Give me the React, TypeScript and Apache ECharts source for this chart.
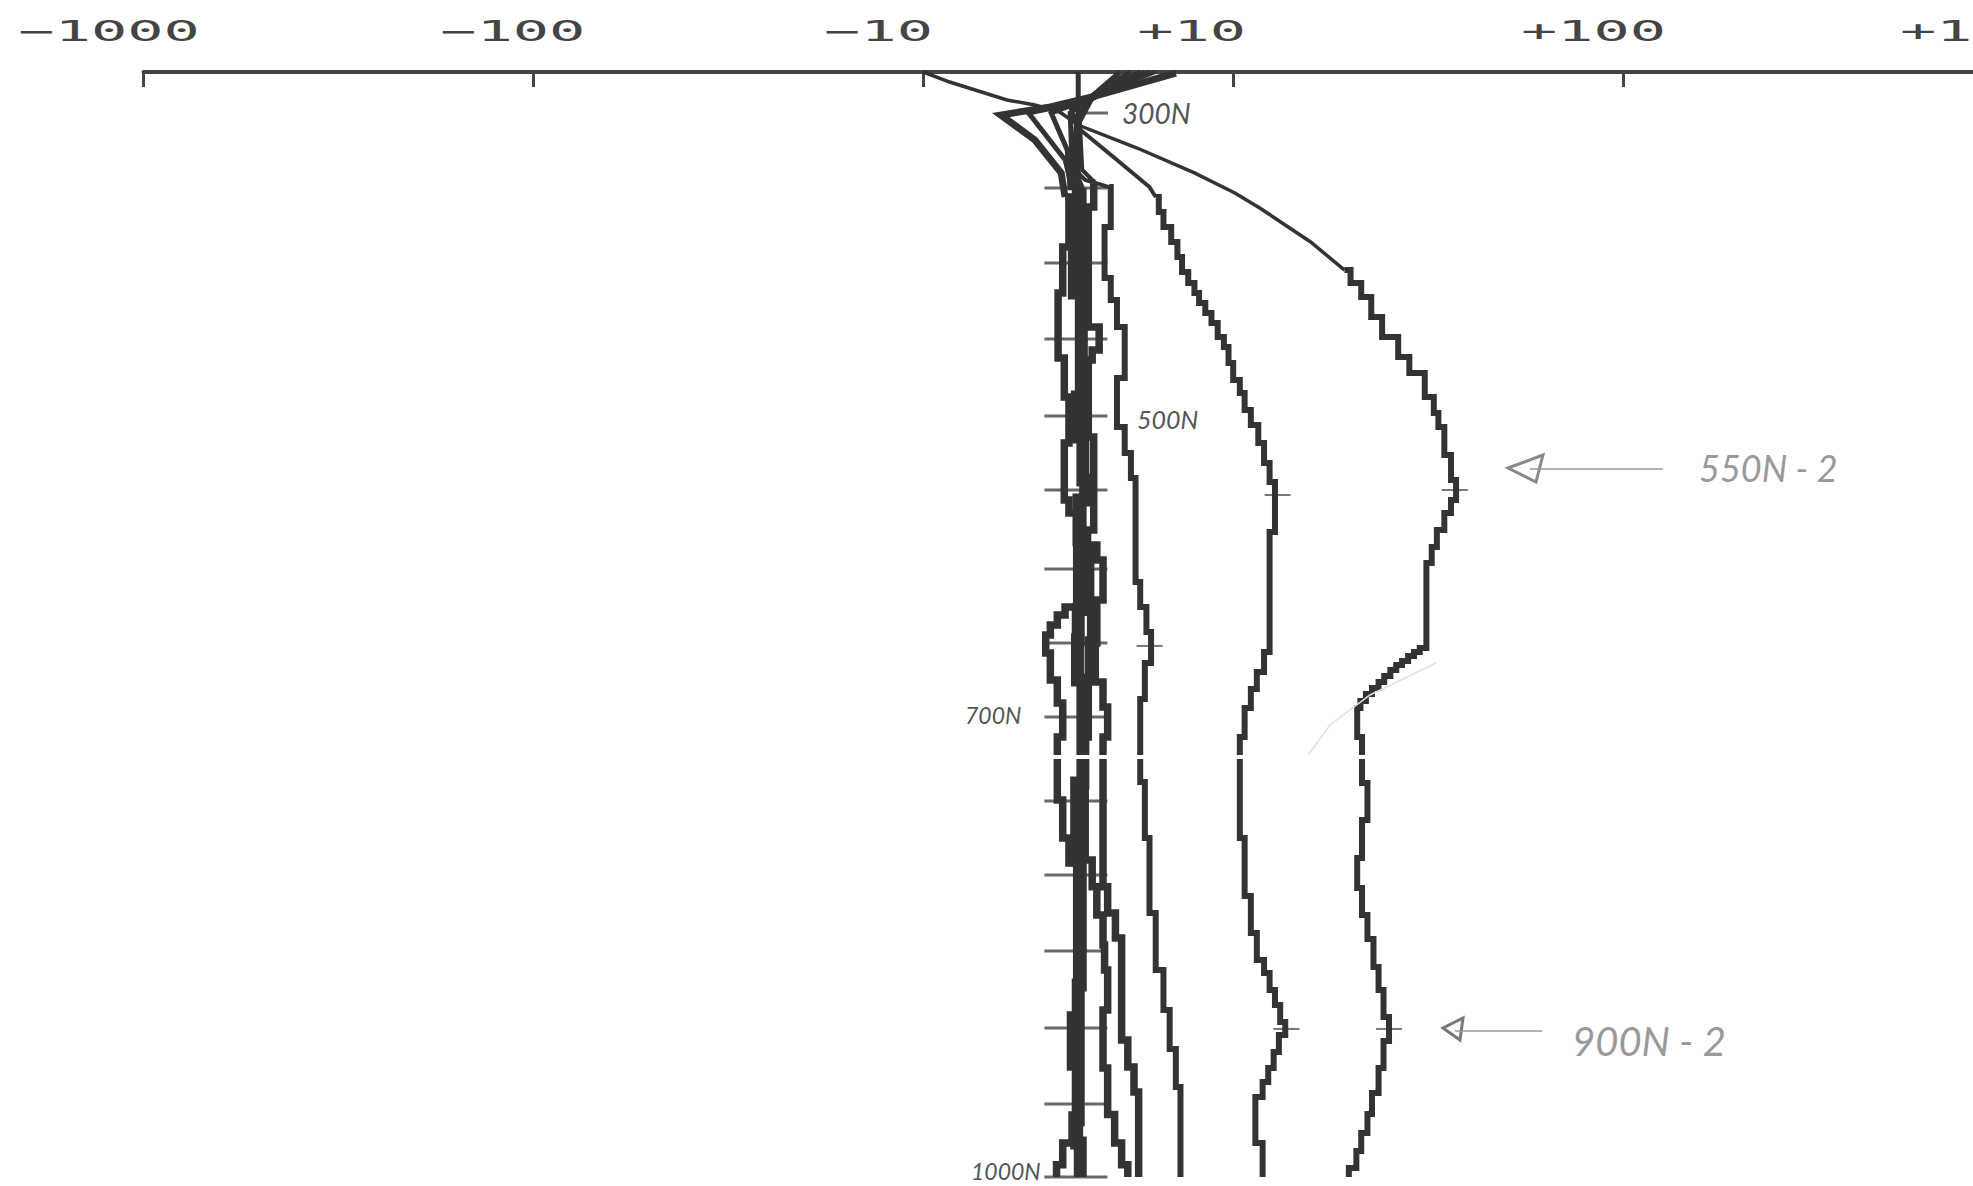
import React, { useEffect, useRef } from "react";
import * as echarts from "echarts";

// Signed decade scale of the original print-out: linear inside +/-10, log outside.
const LINEAR_SPAN = 0.3974;
const symlog = (v: number) => {
  const a = Math.abs(v);
  if (a <= 10) return (v / 10) * LINEAR_SPAN;
  return Math.sign(v) * (Math.log10(a) - 1 + LINEAR_SPAN);
};

const xTickValues = [-1000, -100, -10, 0, 10, 100];
const xLabelValues = [-1000, -100, -10, 10, 100, 1000];
// the last label is cropped by the page edge in the scan: only "+1" is visible
const xLabelTexts = ["−1000", "−100", "−10", "+10", "+100", "+1"];
const xLabelShift = [-125, -93, -99, -96, -102, -113];

// Load marks on the zero line, as read from the page
const loadTicks = [300, 349.3, 398.7, 448.7, 499.3, 548, 600, 648.7, 697.3, 752.6, 801.3, 851.3, 902, 951.9, 1000];

// [offset, load]; "Top" arrays are the fine lines, "Runs" the stepped plotter runs
const stemLine = [[0, 273], [0, 350]];

const curveDTop = [[-10, 273], [-8.3, 279.6], [-4.6, 291.4], [-2.8, 294.7], [-1.2, 299.3], [0, 307.9], [3.8, 323], [7.5, 339.4], [10.1, 352.6], [11.7, 362.5], [15.8, 384.8], [19.3, 403.3]];
const curveDRuns = [[20, 411.8], [21.3, 421], [22.6, 434.2], [24.1, 447.3], [26.5, 460.5], [28.3, 471], [31, 486.8], [32.7, 497.3], [33.6, 506.6], [34.8, 525], [36.2, 541.4], [37.3, 554.6], [36.2, 563.1], [34.8, 574.3], [33.3, 585.5], [32.3, 596], [31.3, 652], [30.1, 654.6], [29.1, 657.2], [28.1, 660.5], [27.1, 663.2], [26.2, 666.4], [25.3, 670.4], [24.4, 674.3], [23.6, 678.3], [22.7, 682.2], [21.9, 686.9], [21.2, 691.4], [20.8, 710.5], [21.4, 740.8], [22.1, 765.1], [21.4, 790.1], [20.8, 809.8], [21.4, 827.6], [22.1, 843.4], [22.9, 861.8], [23.6, 877], [24.3, 894.8], [25.1, 910.5], [24.3, 928.3], [23.6, 944.7], [22.7, 958.6], [22.1, 971], [21.3, 982.9], [20.7, 994.1], [19.8, 1000]];

const curveCTop = [[4, 273], [0.8, 289.4], [-0.5, 296.7], [0, 309.8], [2.35, 329.6], [4.6, 348.7], [5, 355.2]];
const curveCRuns = [[5.2, 365.1], [5.5, 375], [6, 384.8], [6.4, 394.7], [6.7, 404.6], [7.1, 411.8], [7.5, 418.4], [7.8, 425], [8.2, 431.6], [8.6, 438.1], [9, 447.3], [9.4, 453.9], [9.7, 464.4], [10, 475.6], [10.4, 484.2], [10.7, 495.4], [11.1, 505.2], [11.6, 517.1], [12, 530.3], [12.4, 542.7], [12.8, 575.6], [12.4, 654.6], [12, 667.7], [11.5, 678.9], [11.1, 691.4], [10.7, 710.5], [10.4, 777], [10.7, 815.1], [11.1, 839.4], [11.5, 857.2], [12, 865.8], [12.4, 877], [12.8, 886.8], [13.2, 898], [13.6, 906.5], [13.1, 917.7], [12.7, 928.3], [12.3, 937.5], [11.9, 947.4], [11.4, 977.6], [11.9, 1000]];

const curveBTop = [[4.3, 273], [0.8, 291.4], [-0.1, 301.3], [-0.4, 335.5], [0.45, 344], [2, 348.7]];
const curveBRuns = [[2.1, 375], [1.7, 408.5], [2.1, 423], [2.5, 440.8], [3, 474.3], [2.5, 506.6], [3, 523.7], [3.4, 540.1], [3.7, 608.5], [4, 625], [4.4, 641.4], [4.7, 661.8], [4.3, 685.5], [4, 740.1], [4.3, 777], [4.6, 826.3], [5, 863.8], [5.5, 890.1], [5.9, 915.8], [6.3, 940.8], [6.6, 1000]];

const curveATop = [[4.6, 273], [0.9, 289.4], [0.1, 304.6], [0.26, 337.5], [1.1, 346]];
const curveARuns = [[1, 361.8], [0.65, 409.8], [0.65, 440.8], [1.35, 455.9], [0.9, 462.5], [0.65, 513.1], [1, 574.3], [0.6, 584.2], [1.2, 594], [1.6, 620.4], [1.2, 648.7], [1.1, 674.3], [1.6, 690.7], [1.9, 710.5], [1.6, 809.1], [1.9, 826.3], [2.4, 842.7], [2.8, 909.9], [3.2, 927.7], [3.6, 944], [3.9, 1000]];

const curveETop = [[5, 273], [1, 288.8], [0, 307.9], [-0.2, 337.5], [0.3, 349.3]];
const curveERuns = [[0.3, 587.5], [0.8, 646.7], [0.65, 710.5], [0.45, 791.4], [0.9, 809.1], [1.2, 827.6], [1.6, 847.4], [1.7, 863.8], [1.9, 890.1], [1.6, 928.3], [1.9, 958.9], [2.35, 977.6], [2.8, 992], [3.2, 1000]];

const curveFTop = [[6.3, 273.7], [0.9, 289.4], [-1.8, 296], [-5, 301.3], [-2.8, 317.7], [-1.1, 339.4], [-0.85, 355.2]];
const curveFRuns = [[-0.6, 388.1], [-1, 418.4], [-1.3, 461.2], [-0.9, 486.8], [-0.6, 517.1], [-0.9, 554.6], [-0.6, 563.1], [-0.1, 625], [-0.85, 630.3], [-1.35, 636.8], [-1.8, 643.4], [-2.1, 655.2], [-1.8, 673], [-1.35, 688.1], [-1, 710.5], [-1.35, 752], [-1, 777], [-0.6, 793.4], [-0.1, 893.4], [-0.5, 927.7], [0, 959.2], [-0.4, 977.6], [-1, 992], [-1.4, 1000]];

const coreStart = [[0, 350]];
const coreRuns = [[0, 388.1], [-0.25, 418.4], [0.2, 486.8], [-0.05, 513.1], [0.3, 541.4], [0.6, 554.6], [0.05, 580.7], [0.25, 626.7], [0, 646.7], [-0.05, 673], [0.3, 710.5], [0.3, 740.8], [-0.1, 791.4], [0.13, 873.6], [0, 962.4], [-0.1, 977.6], [0.13, 1000]];

const fanOne = [[4, 273], [0.77, 291.4], [-3.2, 300], [-0.84, 330.9], [-0.39, 350.6]];
const fanTwo = [[3.35, 273], [0.45, 291.4], [-1.74, 300], [-0.71, 324.3], [-0.52, 350.6]];
const fanThree = [[2.7, 273], [0.45, 292.7], [-0.52, 300], [-0.39, 335.5], [-0.2, 350.6]];

// Small crosses left on the outer curves
const crossMarks = [[13, 551.3], [37, 548], [4.6, 650.6], [13.7, 902.6], [25.1, 902.6]];

const INK = "#333333";
const toPts = (d: number[][]) => d.map(([v, n]) => [symlog(v), n]);
const fine = (name: string, d: number[][], width = 4) => ({
  type: "line", name, data: toPts(d), showSymbol: false, symbol: "none", silent: true, clip: false,
  lineStyle: { color: INK, width, join: "miter", cap: "butt" },
});
const stepped = (name: string, start: number[][], runs: number[][], width = 6) => ({
  type: "line", name, data: toPts([start[start.length - 1], ...runs]), step: "end", showSymbol: false, symbol: "none",
  silent: true, clip: false, lineStyle: { color: INK, width, join: "miter", cap: "butt" },
});

export default function App() {
  const ref = useRef<HTMLDivElement>(null);
  useEffect(() => {
    const chart = echarts.init(ref.current!, null, { renderer: "svg" });
    const hand = (text: string, x: number, y: number, size: number, fill: string, rotation = 0) => ({
      type: "text", x, y, rotation, z: 50,
      style: { text, fill, font: `italic ${size}px Lato, "Open Sans", sans-serif`, textAlign: "left", textVerticalAlign: "middle" },
    });
    chart.setOption({
      animation: false,
      backgroundColor: "#ffffff",
      grid: { left: 143.5, right: 0, top: 72, bottom: 9 },
      xAxis: {
        type: "value", position: "top", min: symlog(-1000), max: 2.2949, scale: true,
        axisLine: { onZero: false, lineStyle: { color: "#444", width: 4 } },
        axisTick: { show: true, inside: true, length: 15, customValues: xTickValues.map(symlog), lineStyle: { color: "#444", width: 3 } },
        axisLabel: { show: false },
        splitLine: { show: false },
      },
      yAxis: {
        type: "value", inverse: true, min: 273, max: 1000,
        axisLine: { show: false }, axisTick: { show: false }, axisLabel: { show: false }, splitLine: { show: false },
      },
      series: [
        fine("zero", stemLine, 5),
        fine("fan 1", fanOne, 5), fine("fan 2", fanTwo, 5), fine("fan 3", fanThree, 5),
        fine("A top", curveATop), stepped("A", curveATop, curveARuns, 7.5),
        fine("B top", curveBTop), stepped("B", curveBTop, curveBRuns),
        fine("C top", curveCTop), stepped("C", curveCTop, curveCRuns),
        fine("D top", curveDTop, 3.5), stepped("D", curveDTop, curveDRuns),
        fine("E top", curveETop), stepped("E", curveETop, curveERuns, 7.5),
        fine("F top", curveFTop, 7), stepped("F", curveFTop, curveFRuns, 7.5),
        stepped("core", coreStart, coreRuns, 13),
        {
          type: "scatter", name: "load marks", silent: true, symbol: "rect",
          data: loadTicks.map((n, i) => [symlog(i === 0 ? 0.95 : -0.15), n]),
          symbolSize: (_v: unknown, p: { dataIndex: number }) => (p.dataIndex === 0 ? [30, 3] : [63, 3]),
          itemStyle: { color: "#444" },
        },
        {
          type: "scatter", name: "crosses", silent: true, symbol: "rect", symbolSize: [26, 2],
          data: toPts(crossMarks), itemStyle: { color: "#555" },
        },
        {
          type: "custom", name: "axis labels", silent: true, clip: false,
          data: xLabelValues.map((v) => [symlog(v), 273]),
          renderItem: (params: { dataIndex: number }, api: any) => {
            const i = params.dataIndex;
            const [px] = api.coord([api.value(0), 273]);
            return {
              type: "text", x: px + xLabelShift[i], y: 31, scaleX: 2.15,
              style: { text: xLabelTexts[i], fill: "#444", font: '28px "DejaVu Sans Mono", monospace', textAlign: "left", textVerticalAlign: "middle" },
            };
          },
        },
      ],
      graphic: [
        { type: "rect", z: 40, shape: { x: 1040, y: 755, width: 332, height: 4 }, style: { fill: "#ffffff" } },
        hand("300N", 1122, 113, 28, "#555"),
        hand("500N", 1137, 419, 25, "#555"),
        hand("700N", 965, 715, 23, "#555"),
        hand("1000N", 971, 1171, 23, "#555"),
        hand("550N - 2", 1699, 468, 36, "#999"),
        hand("900N - 2", 1572, 1041, 40, "#999"),
        { type: "polygon", z: 40, shape: { points: [[1508, 468], [1543, 455], [1536, 482]] }, style: { fill: "none", stroke: "#8a8a8a", lineWidth: 3 } },
        { type: "line", z: 40, shape: { x1: 1530, y1: 469, x2: 1663, y2: 469 }, style: { stroke: "#999", lineWidth: 1.5 } },
        { type: "polygon", z: 40, shape: { points: [[1443, 1028], [1463, 1018], [1460, 1040]] }, style: { fill: "none", stroke: "#777", lineWidth: 3 } },
        { type: "line", z: 40, shape: { x1: 1455, y1: 1031, x2: 1542, y2: 1031 }, style: { stroke: "#999", lineWidth: 1.5 } },
        { type: "polyline", z: 5, shape: { points: [[1308, 755], [1330, 725], [1370, 695], [1436, 663]] }, style: { fill: "none", stroke: "#e0e0e0", lineWidth: 1.5 } },
      ],
    });
    return () => chart.dispose();
  }, []);
  return (
    <div style={{ position: "absolute", left: 0, top: 0, width: 1973, height: 1186, overflow: "hidden", background: "#fff" }}>
      <div ref={ref} style={{ width: 1973, height: 1186 }} />
    </div>
  );
}
